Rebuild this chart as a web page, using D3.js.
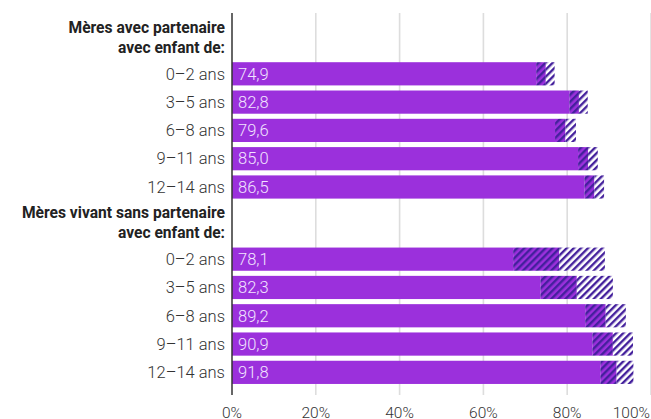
<!DOCTYPE html>
<html>
<head>
<meta charset="utf-8">
<style>
body{margin:0;background:#fff;}
svg{display:block;font-family:Roboto, "Noto Sans", sans-serif;}
</style>
</head>
<body>
<svg id='svg'></svg>
<script type="text/javascript" src='https://cdnjs.cloudflare.com/ajax/libs/d3/7.8.5/d3.min.js'></script>
<script>
// data
var groups = [["Mères avec partenaire","avec enfant de:"], ["Mères vivant sans partenaire","avec enfant de:"]]
var ages = ["0–2 ans","3–5 ans","6–8 ans","9–11 ans","12–14 ans"]
var withPartner     = [74.9, 82.8, 79.6, 85.0, 86.5]
var withPartnerLow  = [72.6, 80.5, 77.1, 82.6, 84.1]
var withPartnerHigh = [77.0, 84.9, 82.1, 87.3, 88.8]
var single     = [78.1, 82.3, 89.2, 90.9, 91.8]
var singleLow  = [67.1, 73.6, 84.3, 86.0, 87.9]
var singleHigh = [89.0, 90.9, 94.0, 95.7, 95.8]
var ticks = [0, 20, 40, 60, 80, 100]

var width = 651, height = 419
var purple = '#9b30dc', dark = '#44209c'
var headUnits = 1.55

// build rows: a heading row then five bars per group
var rows = []
var u = 0
groups.forEach(function(g, gi){
  rows.push({type:'head', lines:g, u0:u, u1:u+headUnits})
  u += headUnits
  var vals = gi == 0 ? [withPartner, withPartnerLow, withPartnerHigh] : [single, singleLow, singleHigh]
  ages.forEach(function(a, i){
    rows.push({type:'bar', label:a, v:vals[0][i], lo:vals[1][i], hi:vals[2][i], u0:u, u1:u+1})
    u += 1
  })
})

var xScale = d3.scaleLinear().domain([0, 100]).range([232, 651])
var yScale = d3.scaleLinear().domain([0, u]).range([15.8, 386.5])
var pad = 0.09

var chart = d3.select('#svg').attr('width', width).attr('height', height)

var defs = chart.append('defs')
function hatch(id, bg){
  var p = defs.append('pattern').attr('id', id)
    .attr('patternUnits', 'userSpaceOnUse')
    .attr('width', 5).attr('height', 5)
    .attr('patternTransform', 'rotate(45)')
  p.append('rect').attr('width', 5).attr('height', 5).attr('fill', bg)
  p.append('rect').attr('width', 2.4).attr('height', 5).attr('fill', dark)
}
hatch('hatchPurple', purple)
hatch('hatchWhite', '#fff')

// gridlines
chart.append('g').selectAll('line')
  .data(ticks.slice(1))
  .enter().append('line')
  .attr('x1', function(d){ return xScale(d) })
  .attr('x2', function(d){ return xScale(d) })
  .attr('y1', 13).attr('y2', 395)
  .attr('stroke', '#dddddd').attr('stroke-width', 1.6)

var bars = rows.filter(function(r){ return r.type == 'bar' })
var heads = rows.filter(function(r){ return r.type == 'head' })

var bar = chart.append('g').selectAll('g')
  .data(bars)
  .enter().append('g')
  .attr('transform', function(d){ return 'translate(0,' + yScale(d.u0 + pad) + ')' })
var bh = yScale(1 - pad) - yScale(pad)

bar.append('rect')
  .attr('x', xScale(0))
  .attr('width', function(d){ return xScale(d.lo) - xScale(0) })
  .attr('height', bh).attr('fill', purple)
bar.append('rect')
  .attr('x', function(d){ return xScale(d.lo) })
  .attr('width', function(d){ return xScale(d.v) - xScale(d.lo) })
  .attr('height', bh).attr('fill', 'url(#hatchPurple)')
bar.append('rect')
  .attr('x', function(d){ return xScale(d.v) })
  .attr('width', function(d){ return xScale(d.hi) - xScale(d.v) })
  .attr('height', bh).attr('fill', 'url(#hatchWhite)')

bar.append('text')
  .attr('x', xScale(0) + 6)
  .attr('y', bh / 2 + 5.8)
  .attr('font-size', 16.5).attr('font-weight', 300)
  .attr('fill', '#f2e4ff')
  .text(function(d){ return d.v.toFixed(1).replace('.', ',') })

bar.append('text')
  .attr('x', 225)
  .attr('y', bh / 2 + 5.8)
  .attr('text-anchor', 'end')
  .attr('font-size', 16.5).attr('font-weight', 300)
  .attr('fill', '#333')
  .text(function(d){ return d.label })

// group headings
chart.append('g').selectAll('text')
  .data(heads)
  .enter().append('text')
  .attr('text-anchor', 'end')
  .attr('font-size', 15.6).attr('font-weight', 700)
  .attr('fill', '#222')
  .each(function(d){
    var t = d3.select(this)
    d.lines.forEach(function(l, i){
      t.append('tspan').attr('x', 225).attr('y', yScale(d.u0) + 17 + i * 20).text(l)
    })
  })

// y axis line
chart.append('line')
  .attr('x1', xScale(0)).attr('x2', xScale(0))
  .attr('y1', 13).attr('y2', 395)
  .attr('stroke', '#333').attr('stroke-width', 1.5)

// x tick labels
chart.append('g').selectAll('text')
  .data(ticks)
  .enter().append('text')
  .attr('x', function(d){ return d == 100 ? 650 : xScale(d) })
  .attr('y', 417.5)
  .attr('text-anchor', function(d){ return d == 100 ? 'end' : 'middle' })
  .attr('font-size', 15.5).attr('font-weight', 300)
  .attr('fill', '#333')
  .text(function(d){ return d + '%' })
</script>
</body>
</html>
